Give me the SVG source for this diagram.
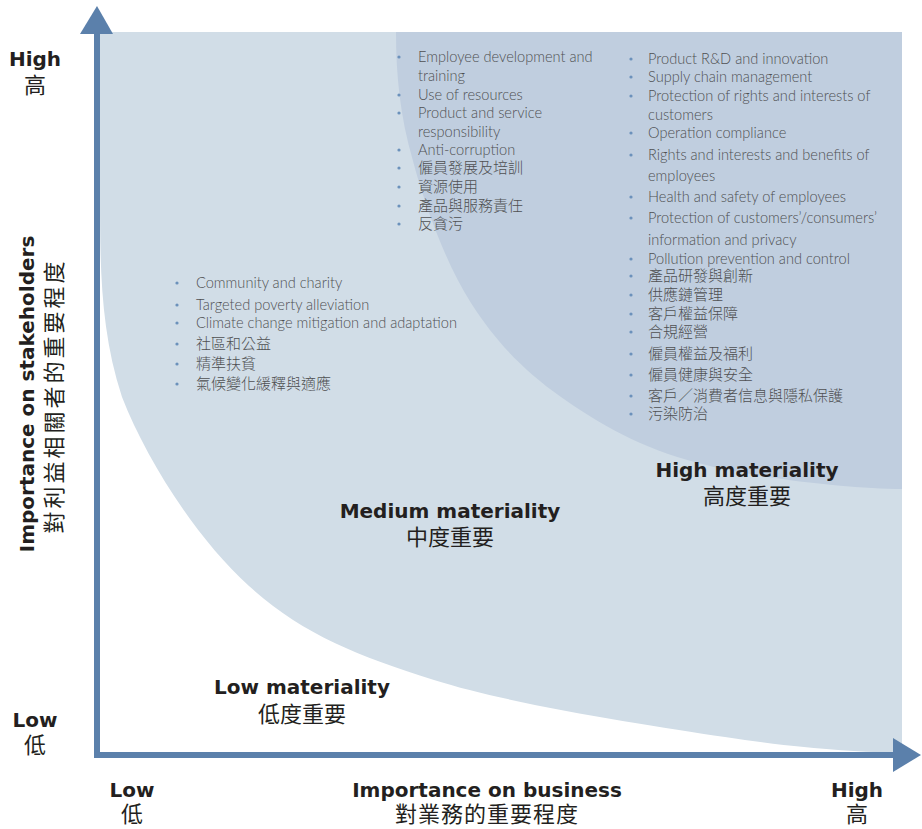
<svg xmlns="http://www.w3.org/2000/svg" width="922" height="829" viewBox="0 0 922 829">
<style>
.item{font-family:Lato,"Noto Sans CJK TC",sans-serif;font-size:14.6px;fill:#4f5052;font-weight:300}
.cjk{font-family:"Noto Sans CJK TC",sans-serif;font-size:15px;fill:#4f5052;font-weight:300}
.bul{fill:#6b91bb}
.head{font-family:"DejaVu Sans",sans-serif;font-size:20px;font-weight:700;fill:#231f20;text-anchor:middle}
.headc{font-family:"Noto Sans CJK TC",sans-serif;font-size:22px;font-weight:400;fill:#231f20;text-anchor:middle}
.axis{fill:none;stroke:#5b80ab;stroke-width:6}
.arrow{fill:#5b80ab}
</style>
<g id="background">
<rect x="100" y="32" width="802" height="721" fill="#d1dde7"/>
<path d="M100,200 C100,270 101,333 122,397 C147,461 197,539 249,586 C301,633 355,655 434,680 C513,705 647,725 725,737 C803,749 860,752 902,753 L100,753 Z" fill="#ffffff"/>
<path d="M396,32 C396,75 400,116 413,161 C425,206 446,264 471,303 C496,342 523,370 561,397 C599,424 641,448 698,463 C755,478 850,489 902,489 L902,32 Z" fill="#c0cedf"/>
</g>
<g id="connectors">
<line class="axis" x1="97" y1="30" x2="97" y2="755"/>
<line class="axis" x1="94" y1="755" x2="896" y2="755"/>
<polygon class="arrow" points="97,6 113,34 80,34"/>
<polygon class="arrow" points="921,755 893,738 893,772"/>
</g>
<g id="high-list">
<g class="bul">
<circle cx="631" cy="59" r="1.6"/><circle cx="631" cy="77" r="1.6"/><circle cx="631" cy="96" r="1.6"/><circle cx="631" cy="133" r="1.6"/><circle cx="631" cy="155" r="1.6"/><circle cx="631" cy="197" r="1.6"/><circle cx="631" cy="218" r="1.6"/><circle cx="631" cy="259" r="1.6"/><circle cx="631" cy="276" r="1.6"/><circle cx="631" cy="295" r="1.6"/><circle cx="631" cy="314" r="1.6"/><circle cx="631" cy="332" r="1.6"/><circle cx="631" cy="354" r="1.6"/><circle cx="631" cy="375" r="1.6"/><circle cx="631" cy="396" r="1.6"/><circle cx="631" cy="414" r="1.6"/>
</g>
<text class="item" x="648" y="64">Product R&amp;D and innovation</text>
<text class="item" x="648" y="82">Supply chain management</text>
<text class="item" x="648" y="101">Protection of rights and interests of</text>
<text class="item" x="648" y="120">customers</text>
<text class="item" x="648" y="138">Operation compliance</text>
<text class="item" x="648" y="160">Rights and interests and benefits of</text>
<text class="item" x="648" y="181">employees</text>
<text class="item" x="648" y="202">Health and safety of employees</text>
<text class="item" x="648" y="223">Protection of customers’/consumers’</text>
<text class="item" x="648" y="245">information and privacy</text>
<text class="item" x="648" y="264">Pollution prevention and control</text>
<text class="cjk" x="648" y="281">產品研發與創新</text>
<text class="cjk" x="648" y="300">供應鏈管理</text>
<text class="cjk" x="648" y="319">客戶權益保障</text>
<text class="cjk" x="648" y="337">合規經營</text>
<text class="cjk" x="648" y="359">僱員權益及福利</text>
<text class="cjk" x="648" y="380">僱員健康與安全</text>
<text class="cjk" x="648" y="401">客戶／消費者信息與隱私保護</text>
<text class="cjk" x="648" y="419">污染防治</text>
</g>
<g id="mid-list">
<g class="bul">
<circle cx="399" cy="57" r="1.6"/><circle cx="399" cy="95" r="1.6"/><circle cx="399" cy="113" r="1.6"/><circle cx="399" cy="150" r="1.6"/><circle cx="399" cy="168" r="1.6"/><circle cx="399" cy="187" r="1.6"/><circle cx="399" cy="206" r="1.6"/><circle cx="399" cy="224" r="1.6"/>
</g>
<text class="item" x="418" y="62">Employee development and</text>
<text class="item" x="418" y="81">training</text>
<text class="item" x="418" y="100">Use of resources</text>
<text class="item" x="418" y="118">Product and service</text>
<text class="item" x="418" y="137">responsibility</text>
<text class="item" x="418" y="155">Anti-corruption</text>
<text class="cjk" x="418" y="173">僱員發展及培訓</text>
<text class="cjk" x="418" y="192">資源使用</text>
<text class="cjk" x="418" y="211">產品與服務責任</text>
<text class="cjk" x="418" y="229">反貪污</text>
</g>
<g id="low-list">
<g class="bul">
<circle cx="177" cy="283" r="1.6"/><circle cx="177" cy="305" r="1.6"/><circle cx="177" cy="323" r="1.6"/><circle cx="177" cy="344" r="1.6"/><circle cx="177" cy="364" r="1.6"/><circle cx="177" cy="384" r="1.6"/>
</g>
<text class="item" x="196" y="288">Community and charity</text>
<text class="item" x="196" y="310">Targeted poverty alleviation</text>
<text class="item" x="196" y="328">Climate change mitigation and adaptation</text>
<text class="cjk" x="196" y="349">社區和公益</text>
<text class="cjk" x="196" y="369">精準扶貧</text>
<text class="cjk" x="196" y="389">氣候變化緩釋與適應</text>
</g>
<g id="high-label">
<text class="head" x="747" y="477">High materiality</text>
<text class="headc" x="747" y="504">高度重要</text>
</g>
<g id="medium-label">
<text class="head" x="450" y="518">Medium materiality</text>
<text class="headc" x="450" y="545">中度重要</text>
</g>
<g id="low-label">
<text class="head" x="302" y="694">Low materiality</text>
<text class="headc" x="302" y="722">低度重要</text>
</g>
<g id="axis-labels">
<text class="head" x="35" y="66">High</text>
<text class="headc" x="35" y="93">高</text>
<text class="head" x="35" y="727">Low</text>
<text class="headc" x="35" y="753">低</text>
<text class="head" x="132" y="797">Low</text>
<text class="headc" x="132" y="822">低</text>
<text class="head" x="487" y="797">Importance on business</text>
<text class="headc" x="487" y="822" style="letter-spacing:1px">對業務的重要程度</text>
<text class="head" transform="translate(34,394) rotate(-90)">Importance on stakeholders</text>
<text class="headc" transform="translate(62,396) rotate(-90)" style="letter-spacing:3px">對利益相關者的重要程度</text>
<text class="head" x="857" y="797">High</text>
<text class="headc" x="857" y="822">高</text>
</g>
</svg>
